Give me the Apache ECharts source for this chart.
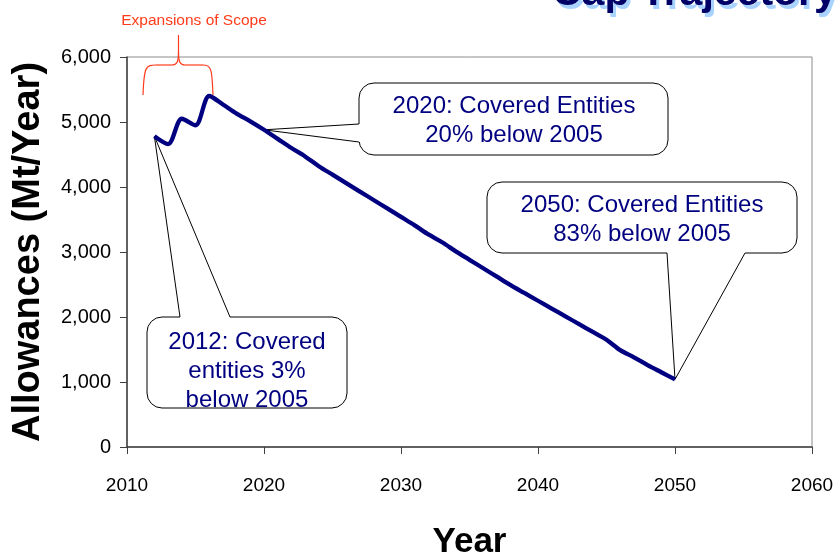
<!DOCTYPE html>
<html><head><meta charset="utf-8">
<script src="https://cdn.jsdelivr.net/npm/echarts@6/dist/echarts.min.js"></script>
<style>html,body{margin:0;padding:0;background:#fff}#c{width:840px;height:558px}</style>
</head><body><div id="c"></div>
<script>
// ---- data ----
const years = [2012,2013,2014,2015,2016,2017,2018,2019,2020,2021,2022,2023,2024,2025,2026,2027,2028,2029,2030,2031,2032,2033,2034,2035,2036,2037,2038,2039,2040,2041,2042,2043,2044,2045,2046,2047,2048,2049,2050];
const allowances = [4780,4660,5050,4950,5400,5270,5130,5010,4880,4740,4600,4470,4320,4190,4060,3930,3800,3670,3540,3410,3270,3150,3010,2880,2750,2620,2490,2370,2250,2130,2010,1890,1770,1650,1490,1380,1260,1150,1040];
const xMin = 2010, xMax = 2060, xStep = 10;
const yMin = 0, yMax = 6000, yStep = 1000;
const titleText = 'Cap Trajectory';
const scopeLabel = 'Expansions of Scope';
const calloutYears = [2012, 2020, 2050];
const calloutTexts = ['2012: Covered\nentities 3%\nbelow 2005', '2020: Covered Entities\n20% below 2005', '2050: Covered Entities\n83% below 2005'];

const FONT = 'Liberation Sans, Arial, sans-serif';
const chart = echarts.init(document.getElementById('c'), null, {renderer: 'canvas'});
chart.setOption({
  animation: false,
  backgroundColor: '#ffffff',
  grid: {left: 127, right: 28, top: 57, bottom: 111, show: true, borderColor: '#8c8c8c', borderWidth: 1,
         containLabel: false, outerBoundsMode: 'none'},
  xAxis: {
    type: 'value', min: xMin, max: xMax, interval: xStep,
    name: 'Year', nameLocation: 'middle', nameGap: 78,
    nameTextStyle: {fontFamily: FONT, fontWeight: 'bold', fontSize: 35, color: '#000'},
    axisLine: {lineStyle: {color: '#404040', width: 1.5}},
    axisTick: {length: 7, lineStyle: {color: '#404040'}},
    axisLabel: {formatter: v => String(v), fontFamily: FONT, fontSize: 19, color: '#000', margin: 29},
    splitLine: {show: false}
  },
  yAxis: {
    type: 'value', min: yMin, max: yMax, interval: yStep,
    name: 'Allowances (Mt/Year)', nameLocation: 'middle', nameGap: 79, nameRotate: 90,
    nameTextStyle: {fontFamily: FONT, fontWeight: 'bold', fontSize: 38, color: '#000'},
    axisLine: {show: true, lineStyle: {color: '#404040', width: 1.5}},
    axisTick: {show: true, length: 7, lineStyle: {color: '#404040'}},
    axisLabel: {fontFamily: FONT, fontSize: 20, color: '#000', margin: 16},
    splitLine: {show: false}
  },
  series: [{
    type: 'line', data: years.map((y, i) => [y, allowances[i]]),
    smooth: 0.3, showSymbol: false, z: 5,
    lineStyle: {color: '#000080', width: 4.3}
  }]
});

function valAt(yr) { return allowances[years.indexOf(yr)]; }
const tips = calloutYears.map(yr => chart.convertToPixel({gridIndex: 0}, [yr, valAt(yr)]));

const boxes = [
  {x: 147, y: 317, w: 200, h: 91, b1: [180, 317], b2: [230, 317], tx: 247, ty: 371},
  {x: 359, y: 83, w: 309, h: 72, b1: [359, 124], b2: [359, 142], tx: 514, ty: 121},
  {x: 487, y: 182, w: 310, h: 71, b1: [667, 253], b2: [745, 253], tx: 642, ty: 220}
];
const elements = [];
boxes.forEach((b, i) => {
  const t = tips[i];
  elements.push({type: 'rect', z: 1, shape: {x: b.x, y: b.y, width: b.w, height: b.h, r: 15},
    style: {fill: '#fff', stroke: '#000', lineWidth: 1}});
  elements.push({type: 'line', z: 1, shape: {x1: b.b1[0], y1: b.b1[1], x2: b.b2[0], y2: b.b2[1]},
    style: {stroke: '#fff', lineWidth: 2.5}});
  elements.push({type: 'polyline', z: 1, shape: {points: [b.b1, t, b.b2]},
    style: {fill: null, stroke: '#000', lineWidth: 1}});
  elements.push({type: 'text', z: 2, style: {text: calloutTexts[i], x: b.tx, y: b.ty, align: 'center', verticalAlign: 'middle',
    font: '24px ' + FONT, fill: '#000080', lineHeight: 29}});
});
// expansions of scope brace
const RED = '#ff3b1a';
elements.push({type: 'text', z: 2, style: {text: scopeLabel, x: 194, y: 21, align: 'center', verticalAlign: 'middle', font: '15.5px ' + FONT, fill: RED}});
const bs = {stroke: RED, lineWidth: 1.2, fill: null};
elements.push({type: 'bezierCurve', z: 2, shape: {x1: 143, y1: 95, cpx1: 144, cpy1: 66, cpx2: 146, cpy2: 65, x2: 156, y2: 65}, style: bs});
elements.push({type: 'line', z: 2, shape: {x1: 156, y1: 65, x2: 172, y2: 65}, style: bs});
elements.push({type: 'bezierCurve', z: 2, shape: {x1: 172, y1: 65, cpx1: 177, cpy1: 65, cpx2: 178.5, cpy2: 62, x2: 178.5, y2: 52}, style: bs});
elements.push({type: 'line', z: 2, shape: {x1: 178.5, y1: 52, x2: 178.5, y2: 35}, style: bs});
elements.push({type: 'bezierCurve', z: 2, shape: {x1: 185, y1: 65, cpx1: 180, cpy1: 65, cpx2: 178.5, cpy2: 62, x2: 178.5, y2: 52}, style: bs});
elements.push({type: 'line', z: 2, shape: {x1: 185, y1: 65, x2: 203, y2: 65}, style: bs});
elements.push({type: 'bezierCurve', z: 2, shape: {x1: 203, y1: 65, cpx1: 211, cpy1: 65, cpx2: 212, cpy2: 68, x2: 213, y2: 95}, style: bs});
// title (cut off at top)
elements.push({type: 'text', z: 2, style: {text: titleText, x: 555, y: -2, align: 'left', verticalAlign: 'middle', font: 'bold 41px ' + FONT, fill: '#a9d3ff'}});
elements.push({type: 'text', z: 3, style: {text: titleText, x: 552, y: -6, align: 'left', verticalAlign: 'middle', font: 'bold 41px ' + FONT, fill: '#000066'}});

chart.setOption({graphic: {elements: elements}});
</script></body></html>
